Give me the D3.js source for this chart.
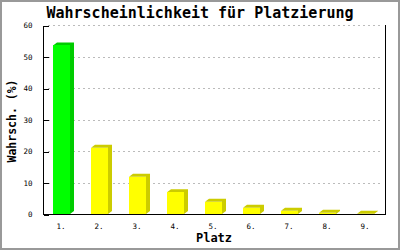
<!DOCTYPE html>
<html>
<head>
<meta charset="utf-8">
<script src="https://cdn.jsdelivr.net/npm/d3@7"></script>
<style>
  body { margin: 0; background: #fff; }
  svg text { font-family: "DejaVu Sans Mono", "Liberation Mono", monospace; }
  line, rect, path { shape-rendering: crispEdges; }
</style>
</head>
<body>
<div id="graph"></div>
<script>
// data
var places = ["1.", "2.", "3.", "4.", "5.", "6.", "7.", "8.", "9."];
var chances = [53.5, 21.0, 11.8, 6.9, 3.9, 2.0, 1.0, 0.4, 0.1];
var barColors = ["#00ff00", "#ffff00", "#ffff00", "#ffff00", "#ffff00", "#ffff00", "#ffff00", "#ffff00", "#ffff00"];
var shadeColors = ["#00cc00", "#cccc00", "#cccc00", "#cccc00", "#cccc00", "#cccc00", "#cccc00", "#cccc00", "#cccc00"];
var yTicks = [0, 10, 20, 30, 40, 50, 60];

var w = 400, h = 250;
var pLeft = 43, pRight = 385, pTop = 25, pBottom = 214;

var vis = d3.select("#graph").append("svg").attr("width", w).attr("height", h);

// frame
vis.append("rect").attr("x", 1).attr("y", 1).attr("width", w - 2).attr("height", h - 2)
   .attr("fill", "#fff").attr("stroke", "#999").attr("stroke-width", 2);

var x = d3.scaleBand().domain(places).range([pLeft, pRight]);
var y = d3.scaleLinear().domain([0, 60]).range([pBottom, pTop]);

// grid lines
vis.selectAll(".grid").data(yTicks.slice(1)).enter().append("line")
   .attr("x1", pLeft + 5).attr("x2", pRight - 3)
   .attr("y1", function(d) { return y(d) + 0.5; })
   .attr("y2", function(d) { return y(d) + 0.5; })
   .attr("stroke", "#bbb").attr("stroke-dasharray", "2,3");

// bars (front + top + side)
var dx = 4, dy = 3, bw = 17;
var bars = vis.selectAll(".bar").data(chances).enter().append("g");
bars.append("polygon")
   .attr("points", function(d, i) {
     var x0 = x(places[i]) + 10, x1 = x0 + bw, yt = y(d);
     return [[x0, yt], [x0 + dx, yt - dy], [x1 + dx, yt - dy], [x1 + dx, pBottom - dy], [x1, pBottom], [x1, yt]].join(" ");
   })
   .attr("fill", function(d, i) { return shadeColors[i]; });
bars.append("rect")
   .attr("x", function(d, i) { return x(places[i]) + 10; })
   .attr("y", function(d) { return y(d); })
   .attr("width", bw)
   .attr("height", function(d) { return pBottom - y(d); })
   .attr("fill", function(d, i) { return barColors[i]; });

// left axis
var yAxis = vis.append("g").attr("transform", "translate(" + (pLeft + 0.5) + ",0.5)")
   .call(d3.axisLeft(y).tickValues(yTicks).tickSize(5).tickPadding(6));
yAxis.select(".domain").attr("d", "M0," + pTop + "V" + pBottom);
yAxis.selectAll(".tick line").attr("x2", 5);
yAxis.selectAll("text").style("font-size", "7.5px").attr("fill", "#000");

// bottom axis
var xAxis = vis.append("g").attr("transform", "translate(0," + (pBottom + 0.5) + ")")
   .call(d3.axisBottom(x).tickSize(0).tickPadding(9));
xAxis.select(".domain").attr("d", "M" + pLeft + ",0H" + (pRight + 1));
xAxis.selectAll("text").style("font-size", "7.5px").attr("fill", "#000").attr("dx", "-1");

// right edge line
vis.append("line").attr("x1", pRight + 0.5).attr("x2", pRight + 0.5).attr("y1", pTop).attr("y2", pBottom + 1)
   .attr("stroke", "#000");

// texts
vis.append("text").attr("x", 200).attr("y", 18).attr("text-anchor", "middle")
   .style("font-size", "15px").style("font-weight", "bold")
   .text("Wahrscheinlichkeit für Platzierung");
vis.append("text").attr("x", (pLeft + pRight) / 2).attr("y", 242).attr("text-anchor", "middle")
   .style("font-size", "12px").style("font-weight", "bold").text("Platz");
vis.append("text").attr("transform", "translate(12,121) rotate(-90)")
   .attr("text-anchor", "middle").attr("dominant-baseline", "central")
   .style("font-size", "11.5px").style("font-weight", "bold").text("Wahrsch. (%)");
</script>
</body>
</html>
